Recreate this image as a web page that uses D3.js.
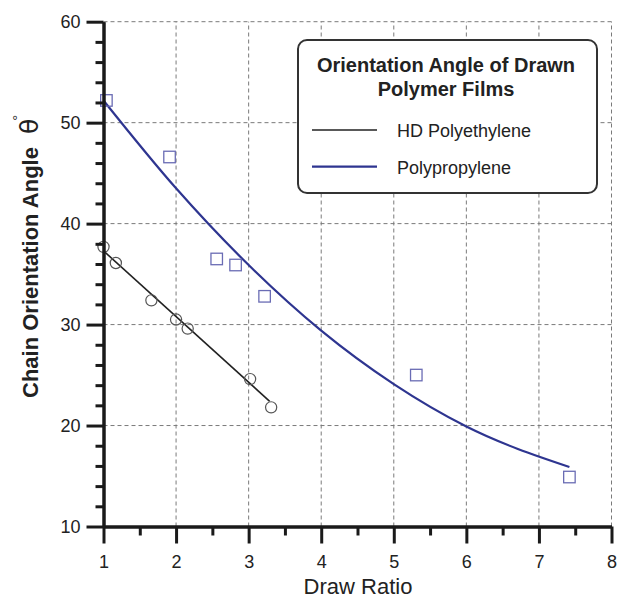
<!DOCTYPE html>
<html>
<head>
<meta charset="utf-8">
<script src="https://cdn.jsdelivr.net/npm/d3@7"></script>
<style>
  html, body { margin: 0; padding: 0; background: #fff; }
  svg { display: block; font-family: "Liberation Sans", Arial, Helvetica, sans-serif; }
</style>
</head>
<body>
<svg id="chart" width="618" height="598"></svg>
<script>
// Measured orientation angles (degrees) vs draw ratio
const hdDrawRatio   = [1.0, 1.17, 1.66, 2.0, 2.16, 3.02, 3.31];
const hdAngle       = [37.7, 36.1, 32.4, 30.5, 29.6, 24.6, 21.8];
const ppDrawRatio   = [1.04, 1.91, 2.56, 2.82, 3.22, 5.31, 7.42];
const ppAngle       = [52.2, 46.6, 36.5, 35.9, 32.8, 25.0, 14.9];

// Fitted trend lines (points along each fit)
const hdFitRatio    = [1.0, 3.29];
const hdFitAngle    = [37.3, 22.4];
const ppFitRatio    = [1.0, 2.0, 3.0, 4.0, 5.0, 6.0, 7.42];
const ppFitAngle    = [52.2, 43.5, 35.9, 29.4, 24.1, 19.9, 15.9];

// Axis ticks
const xMajorTicks = [1, 2, 3, 4, 5, 6, 7, 8];
const xMinorTicks = [1.5, 2.5, 3.5, 4.5, 5.5, 6.5, 7.5];
const yMajorTicks = [10, 20, 30, 40, 50, 60];
const yMinorTicks = [12, 14, 16, 18, 22, 24, 26, 28, 32, 34, 36, 38, 42, 44, 46, 48, 52, 54, 56, 58];

const seriesNames = ["HD Polyethylene", "Polypropylene"];
const legendTitle = ["Orientation Angle of Drawn", "Polymer Films"];

const W = 618, H = 598;
const margin = { left: 103.5, right: 6.5, top: 21.7, bottom: 71.5 };

const svg = d3.select("#chart");
const x = d3.scaleLinear().domain([1, 8]).range([margin.left, W - margin.right]);
const y = d3.scaleLinear().domain([10, 60]).range([H - margin.bottom, margin.top]);

const blue = "#2e3590";
const squareBlue = "#6a6cb4";
const ink = "#1a1a1a";

// Dashed grid
const grid = svg.append("g").attr("stroke", "#7a7a7a").attr("stroke-width", 1)
  .attr("stroke-dasharray", "4,3").attr("fill", "none");
grid.selectAll("line.h").data(yMajorTicks.filter(d => d > 10)).join("line")
  .attr("x1", x(1)).attr("x2", x(8)).attr("y1", d => y(d)).attr("y2", d => y(d));
grid.selectAll("line.v").data(xMajorTicks.filter(d => d > 1)).join("line")
  .attr("y1", y(10)).attr("y2", y(60)).attr("x1", d => x(d)).attr("x2", d => x(d));

// Legend box (drawn over the grid)
const lg = svg.append("g");
lg.append("rect").attr("x", 298).attr("y", 40).attr("width", 299).attr("height", 153)
  .attr("rx", 9).attr("fill", "#fff").attr("stroke", "#333").attr("stroke-width", 2);
lg.selectAll("text.title").data(legendTitle).join("text")
  .attr("x", 446).attr("y", (d, i) => 72 + i * 23.5)
  .attr("text-anchor", "middle").attr("font-size", 20).attr("font-weight", "bold")
  .attr("fill", "#222").text(d => d);
const legendColors = ["#222", blue];
seriesNames.forEach((name, i) => {
  const ly = 130 + i * 36.7;
  lg.append("line").attr("x1", 312).attr("x2", 377).attr("y1", ly).attr("y2", ly)
    .attr("stroke", legendColors[i]).attr("stroke-width", i === 0 ? 1.6 : 2.2);
  lg.append("text").attr("x", 397).attr("y", ly + 7).attr("font-size", 18)
    .attr("fill", "#222").text(name);
});

// Fit lines
const line = d3.line().x(d => x(d[0])).y(d => y(d[1]));
svg.append("path").datum(hdFitRatio.map((r, i) => [r, hdFitAngle[i]]))
  .attr("d", line).attr("fill", "none").attr("stroke", "#222").attr("stroke-width", 1.6);
svg.append("path").datum(ppFitRatio.map((r, i) => [r, ppFitAngle[i]]))
  .attr("d", line.curve(d3.curveMonotoneX)).attr("fill", "none")
  .attr("stroke", blue).attr("stroke-width", 2.2);

// Data markers
svg.append("g").selectAll("circle").data(hdDrawRatio.map((r, i) => [r, hdAngle[i]])).join("circle")
  .attr("cx", d => x(d[0])).attr("cy", d => y(d[1])).attr("r", 5.6)
  .attr("fill", "none").attr("stroke", "#555").attr("stroke-width", 1.2);
const sq = 11.5;
svg.append("g").selectAll("rect").data(ppDrawRatio.map((r, i) => [r, ppAngle[i]])).join("rect")
  .attr("x", d => x(d[0]) - sq / 2).attr("y", d => y(d[1]) - sq / 2)
  .attr("width", sq).attr("height", sq)
  .attr("fill", "none").attr("stroke", squareBlue).attr("stroke-width", 1.3);

// Axes
function styleAxis(g) {
  g.select(".domain").attr("stroke", ink).attr("stroke-width", 3);
  g.selectAll(".tick line").attr("stroke", ink).attr("stroke-width", 3);
}
const fmt = d3.format("d");
const yAxisG = svg.append("g").attr("transform", `translate(${x(1)},0)`);
yAxisG.append("g").call(d3.axisLeft(y).tickValues(yMinorTicks).tickSize(8).tickSizeOuter(0).tickFormat(""))
  .call(styleAxis);
yAxisG.append("g").call(d3.axisLeft(y).tickValues(yMajorTicks).tickSize(17).tickSizeOuter(0).tickPadding(6).tickFormat(fmt))
  .call(styleAxis)
  .call(g => g.selectAll(".tick text").attr("font-size", 18).attr("fill", "#222")
    .attr("font-family", "'Liberation Sans', Arial, sans-serif"));

const xAxisG = svg.append("g").attr("transform", `translate(0,${y(10)})`);
xAxisG.append("g").call(d3.axisBottom(x).tickValues(xMinorTicks).tickSize(9).tickSizeOuter(0).tickFormat(""))
  .call(styleAxis);
xAxisG.append("g").call(d3.axisBottom(x).tickValues(xMajorTicks).tickSize(17).tickSizeOuter(0).tickPadding(12).tickFormat(fmt))
  .call(styleAxis)
  .call(g => g.selectAll(".tick text").attr("font-size", 18).attr("fill", "#222")
    .attr("font-family", "'Liberation Sans', Arial, sans-serif"));

// Axis titles
svg.append("text").attr("x", 358).attr("y", 594).attr("text-anchor", "middle")
  .attr("font-size", 22).attr("fill", "#222").text("Draw Ratio");

const yl = svg.append("text").attr("transform", "translate(38,398) rotate(-90)")
  .attr("font-size", 22).attr("font-weight", "bold").attr("fill", "#222");
yl.append("tspan").text("Chain Orientation Angle");
yl.append("tspan").attr("dx", 13).attr("font-weight", "normal").attr("font-size", 25)
  .attr("font-family", "'DejaVu Sans', sans-serif").text("θ");
yl.append("tspan").attr("dx", -2).attr("dy", -15).attr("font-weight", "normal").attr("font-size", 15)
  .text("°");
</script>
</body>
</html>
